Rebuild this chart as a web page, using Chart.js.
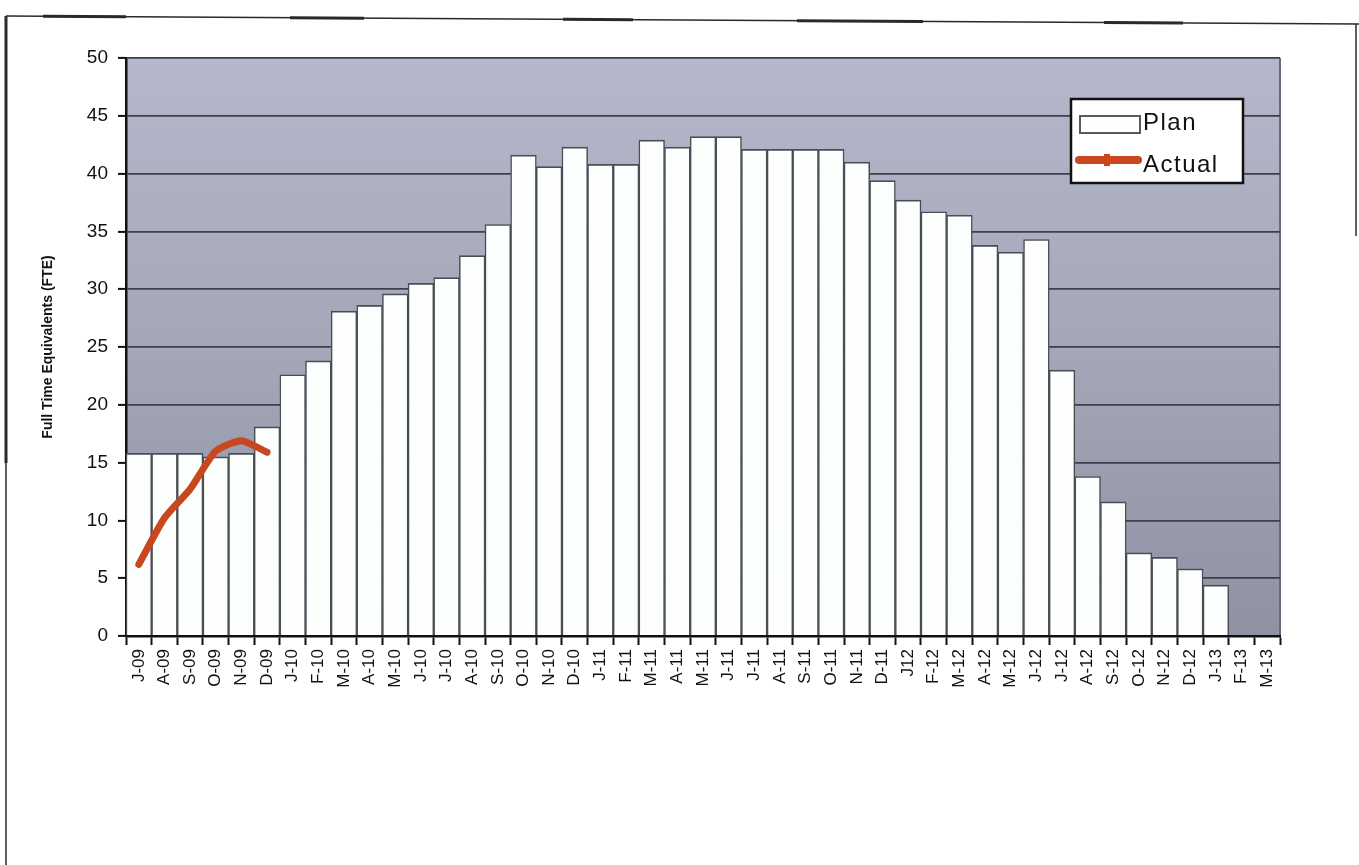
<!DOCTYPE html>
<html>
<head>
<meta charset="utf-8">
<script src="https://cdn.jsdelivr.net/npm/chart.js@4/dist/chart.umd.min.js"></script>
<style>
  html, body { margin: 0; padding: 0; background: #ffffff; }
  #wrap { width: 1359px; height: 865px; position: relative; }
</style>
</head>
<body>
<div id="wrap"><canvas id="fte" width="1359" height="865"></canvas></div>
<script>
// Month labels, July 2009 to March 2013
const months = ['J-09','A-09','S-09','O-09','N-09','D-09',
  'J-10','F-10','M-10','A-10','M-10','J-10','J-10','A-10','S-10','O-10','N-10','D-10',
  'J-11','F-11','M-11','A-11','M-11','J-11','J-11','A-11','S-11','O-11','N-11','D-11',
  'J12','F-12','M-12','A-12','M-12','J-12','J-12','A-12','S-12','O-12','N-12','D-12',
  'J-13','F-13','M-13'];

// Planned full time equivalents per month
const planFTE = [15.8,15.8,15.8,15.5,15.8,18.1,
  22.6,23.8,28.1,28.6,29.6,30.5,31.0,32.9,35.6,41.6,40.6,42.3,
  40.8,40.8,42.9,42.3,43.2,43.2,42.1,42.1,42.1,42.1,41.0,39.4,
  37.7,36.7,36.4,33.8,33.2,34.3,23.0,13.8,11.6,7.2,6.8,5.8,
  4.4,0,0];

// Actual full time equivalents reported so far
const actualFTE = [6.2,10.2,12.7,16.0,16.9,15.9];

// Value axis ticks
const yMin = 0, yMax = 50, yStep = 5;

const FONT = '"Liberation Sans", Arial, sans-serif';
const RED = '#c9471f';

// Shaded plot area behind the bars
const plotBackground = {
  id: 'plotBackground',
  beforeDraw(chart) {
    const { ctx, chartArea: a } = chart;
    ctx.save();
    const g = ctx.createLinearGradient(0, a.top, 0, a.bottom);
    g.addColorStop(0, '#b5b8ca');
    g.addColorStop(0.5, '#a4a7b8');
    g.addColorStop(1, '#8e92a3');
    ctx.fillStyle = g;
    ctx.fillRect(a.left, a.top, a.right - a.left, a.bottom - a.top);
    ctx.strokeStyle = '#666a7a';
    ctx.lineWidth = 2;
    ctx.beginPath();
    ctx.moveTo(a.right, a.top);
    ctx.lineTo(a.right, a.bottom);
    ctx.stroke();
    ctx.restore();
  }
};

// Boxed legend in the upper right of the plot, and the page frame
const boxLegend = {
  id: 'boxLegend',
  afterDraw(chart) {
    const { ctx } = chart;
    const ds = chart.data.datasets;
    ctx.save();
    // frame
    ctx.strokeStyle = '#2a2a2a';
    ctx.lineWidth = 1.5;
    ctx.beginPath();
    ctx.moveTo(6, 16); ctx.lineTo(1359, 24);
    ctx.stroke();
    ctx.lineWidth = 3;
    [[43,126],[290,364],[563,633],[797,923],[1104,1183]].forEach(([x0,x1]) => {
      ctx.beginPath();
      ctx.moveTo(x0, 16 + 8 * x0 / 1353);
      ctx.lineTo(x1, 16 + 8 * x1 / 1353);
      ctx.stroke();
    });
    ctx.lineWidth = 3;
    ctx.beginPath(); ctx.moveTo(6, 16); ctx.lineTo(6, 463); ctx.stroke();
    ctx.lineWidth = 1.5;
    ctx.beginPath(); ctx.moveTo(6, 463); ctx.lineTo(6, 865); ctx.stroke();
    ctx.beginPath(); ctx.moveTo(1356, 24); ctx.lineTo(1356, 236); ctx.stroke();

    // legend box
    const bx = 1071, by = 99, bw = 172, bh = 84;
    ctx.fillStyle = '#ffffff';
    ctx.fillRect(bx, by, bw, bh);
    ctx.strokeStyle = '#111111';
    ctx.lineWidth = 2.5;
    ctx.strokeRect(bx, by, bw, bh);

    // Plan swatch
    ctx.fillStyle = ds[0].backgroundColor;
    ctx.fillRect(1080, 116, 60, 17);
    ctx.strokeStyle = '#555b5e';
    ctx.lineWidth = 2;
    ctx.strokeRect(1080, 116, 60, 17);

    // Actual swatch
    ctx.strokeStyle = ds[1].borderColor;
    ctx.lineWidth = 8;
    ctx.lineCap = 'round';
    ctx.beginPath(); ctx.moveTo(1079, 160); ctx.lineTo(1138, 160); ctx.stroke();
    ctx.fillStyle = ds[1].borderColor;
    ctx.fillRect(1104, 154, 6, 12);

    // labels
    ctx.fillStyle = '#111111';
    ctx.font = '24px ' + FONT;
    ctx.letterSpacing = '1.5px';
    ctx.textBaseline = 'alphabetic';
    ctx.textAlign = 'left';
    ctx.fillText(ds[0].label, 1143, 130);
    ctx.fillText(ds[1].label, 1143, 172);
    ctx.restore();
  }
};

new Chart(document.getElementById('fte'), {
  data: {
    labels: months,
    datasets: [
      {
        type: 'bar',
        label: 'Plan',
        data: planFTE,
        backgroundColor: '#fdfefe',
        borderColor: '#4a4d55',
        borderWidth: { top: 1.7, left: 1.5, right: 1.5, bottom: 0 },
        borderSkipped: false,
        categoryPercentage: 1.0,
        barPercentage: 1.0,
        order: 2
      },
      {
        type: 'line',
        label: 'Actual',
        data: actualFTE,
        borderColor: RED,
        backgroundColor: RED,
        borderWidth: 7,
        borderCapStyle: 'round',
        borderJoinStyle: 'round',
        pointRadius: 0,
        tension: 0.2,
        fill: false,
        order: 1
      }
    ]
  },
  options: {
    responsive: false,
    animation: false,
    devicePixelRatio: 1,
    layout: { padding: { top: 58, right: 79, left: 0, bottom: 0 } },
    plugins: {
      legend: { display: false },
      tooltip: { enabled: false },
      title: { display: false }
    },
    scales: {
      x: {
        type: 'category',
        offset: true,
        grid: {
          display: true,
          offset: true,
          drawOnChartArea: false,
          drawTicks: true,
          tickLength: 9,
          tickColor: '#111111',
          tickWidth: 2
        },
        border: { display: true, color: '#111111', width: 2.5 },
        ticks: {
          autoSkip: false,
          minRotation: 90,
          maxRotation: 90,
          padding: 4,
          color: '#111111',
          font: { family: FONT, size: 17 }
        },
        afterFit(scale) { scale.height = 229; }
      },
      y: {
        min: yMin,
        max: yMax,
        grid: {
          color: '#3e4048',
          lineWidth: 1.8,
          drawTicks: true,
          tickLength: 8,
          tickColor: '#111111',
          tickWidth: 2
        },
        border: { display: true, color: '#111111', width: 2.5 },
        ticks: {
          stepSize: yStep,
          padding: 10,
          color: '#111111',
          font: { family: FONT, size: 19 }
        },
        title: {
          display: true,
          text: 'Full Time Equivalents (FTE)',
          color: '#111111',
          font: { family: FONT, size: 14, weight: 'bold' },
          padding: { top: 40, bottom: 0 }
        },
        afterFit(scale) { scale.width = 126; }
      }
    }
  },
  plugins: [plotBackground, boxLegend]
});
</script>
</body>
</html>
